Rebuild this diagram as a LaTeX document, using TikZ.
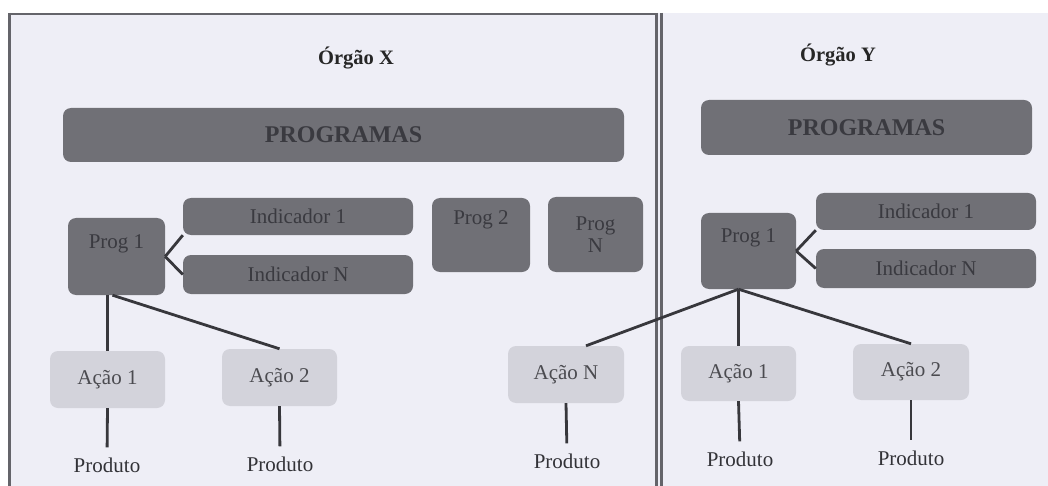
\documentclass[tikz,border=0pt]{standalone}
\usepackage{fontspec}
\setmainfont{Liberation Serif}
\usetikzlibrary{calc}
\definecolor{bgc}{RGB}{238,238,246}
\definecolor{darkc}{RGB}{112,112,118}
\definecolor{lightc}{RGB}{211,211,219}
\definecolor{dtext}{RGB}{58,58,64}
\definecolor{ltext}{RGB}{75,75,80}
\definecolor{ptext}{RGB}{50,50,55}
\definecolor{linec}{RGB}{55,55,60}
\definecolor{framec}{RGB}{100,100,106}
\tikzset{
  darkbox/.style={rectangle, rounded corners=8pt, fill=darkc, draw=none, text=dtext, font=\fontsize{21}{22}\selectfont, inner sep=0pt, align=center},
  lightbox/.style={rectangle, rounded corners=8pt, fill=lightc, draw=none, text=ltext, font=\fontsize{21}{22}\selectfont, inner sep=0pt},
  prodlabel/.style={text=ptext, font=\fontsize{21}{22}\selectfont, inner sep=0pt},
  titlelabel/.style={text=black!85, font=\bfseries\fontsize{20.5}{22}\selectfont, inner sep=0pt},
  progbox/.style={darkbox, font=\bfseries\fontsize{24}{26}\selectfont, text=dtext},
  conn/.style={draw=linec, line width=2.8pt},
  prodconn/.style={draw=linec, line width=2.8pt, shorten >=10pt}
}
\begin{document}
\begin{tikzpicture}[x=1pt,y=-1pt]
\useasboundingbox (0,0) rectangle (1048,486);
\fill[white] (0,0) rectangle (1048,486);
\fill[bgc] (8,13) rectangle (1048,486);
% frame lines
\draw[framec, line width=2.5pt] (8,14) -- (656,14);
\draw[framec, line width=3pt] (9.5,13) -- (9.5,486);
\draw[framec, line width=2.2pt] (656.5,13) -- (656.5,486);
\draw[framec, line width=2.2pt] (661.5,13) -- (661.5,486);

% titles
\node[titlelabel] (tX) at (356,58) {Órgão X};
\node[titlelabel] (tY) at (838,55) {Órgão Y};

% programas
\node[progbox, minimum width=561pt, minimum height=54pt] (progX) at (343.5,135) {PROGRAMAS};
\node[progbox, minimum width=331pt, minimum height=55pt] (progY) at (866.5,127.5) {PROGRAMAS};

% organ X
\node[darkbox, minimum width=230pt, minimum height=37pt] (ind1X) at (298,216.5) {Indicador 1};
\node[darkbox, minimum width=230pt, minimum height=39pt] (indNX) at (298,274.5) {Indicador N};
\node[darkbox, minimum width=97pt, minimum height=77pt] (prog1X) at (116.5,256.5) {Prog 1\\[2pt]\strut};
\node[darkbox, minimum width=98pt, minimum height=74pt] (prog2) at (481,235) {Prog 2\\[6pt]\strut};
\node[darkbox, minimum width=95pt, minimum height=75pt] (progN) at (595.5,234.5) {Prog\\N};

% organ Y
\node[darkbox, minimum width=220pt, minimum height=37pt] (ind1Y) at (926,211.5) {Indicador 1};
\node[darkbox, minimum width=220pt, minimum height=39pt] (indNY) at (926,268.5) {Indicador N};
\node[darkbox, minimum width=95pt, minimum height=76pt] (prog1Y) at (748.5,251) {Prog 1\\[2pt]\strut};

% acoes
\node[lightbox, minimum width=115pt, minimum height=57pt] (acao1X) at (107.5,379.5) {Ação 1};
\node[lightbox, minimum width=115pt, minimum height=57pt] (acao2X) at (279.5,377.5) {Ação 2};
\node[lightbox, minimum width=116pt, minimum height=57pt] (acaoN) at (566,374.5) {Ação N};
\node[lightbox, minimum width=115pt, minimum height=55pt] (acao1Y) at (738.5,373.5) {Ação 1};
\node[lightbox, minimum width=116pt, minimum height=56pt] (acao2Y) at (911,372) {Ação 2};

% produtos
\node[prodlabel] (p1X) at (107,465) {Produto};
\node[prodlabel] (p2X) at (280,464) {Produto};
\node[prodlabel] (pN) at (567,461) {Produto};
\node[prodlabel] (p1Y) at (740,459) {Produto};
\node[prodlabel] (p2Y) at (911,458) {Produto};

% connectors organ X
\draw[conn] (prog1X.east) -- (ind1X.south west);
\draw[conn] (prog1X.east) -- (indNX.west);
\draw[conn] (acao1X.north |- prog1X.south) -- (acao1X.north);
\draw[conn] ([xshift=-4pt]prog1X.south) -- (acao2X.north);

% connectors organ Y
\draw[conn] (prog1Y.east) -- (ind1Y.south west);
\draw[conn] (prog1Y.east) -- (indNY.west);
\coordinate (forkY) at (acao1Y.north |- prog1Y.south);
\draw[conn] (forkY) -- ([xshift=20pt]acaoN.north);
\draw[conn] (forkY) -- (acao1Y.north);
\draw[conn] (forkY) -- (acao2Y.north);

% acao to produto
\draw[prodconn] (acao1X.south) -- (p1X.north);
\draw[prodconn] (acao2X.south) -- (p2X.north);
\draw[prodconn] (acaoN.south) -- (pN.north);
\draw[prodconn] (acao1Y.south) -- (p1Y.north);
\draw[prodconn] (acao2Y.south) -- (p2Y.north);
\end{tikzpicture}
\end{document}
